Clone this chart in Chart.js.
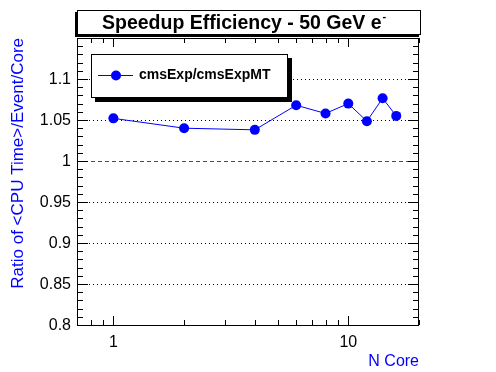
<!DOCTYPE html>
<html>
<head>
<meta charset="utf-8">
<script src="https://cdn.jsdelivr.net/npm/chart.js@4.4.0/dist/chart.umd.min.js"></script>
<style>
  html, body { margin: 0; padding: 0; background: #fff; }
  canvas { display: block; }
</style>
</head>
<body>
<canvas id="grafico" width="496" height="372"></canvas>
<script>
// dados
const nCore = [1, 2, 4, 6, 8, 10, 12, 14, 16];
const razao = [1.052, 1.040, 1.038, 1.068, 1.058, 1.070, 1.0485, 1.0765, 1.055];
const yTicks = [0.8, 0.85, 0.9, 0.95, 1, 1.05, 1.1];
const yLabels = ['0.8', '0.85', '0.9', '0.95', '1', '1.05', '1.1'];
const xTicks = [1, 10];
const xLabels = ['1', '10'];
const titulo = 'Speedup Efficiency - 50 GeV e';
const serie = 'cmsExp/cmsExpMT';
const tituloY = 'Ratio of <CPU Time>/Event/Core';
const tituloX = 'N Core';

const FONTE = "'Liberation Sans', Arial, Helvetica, sans-serif";
const AZUL = '#0000ff';

const estiloRoot = {
    id: 'estiloRoot',
    beforeDatasetsDraw(chart) {
        const ctx = chart.ctx;
        const a = chart.chartArea;
        const y = chart.scales.y;
        ctx.save();
        ctx.lineWidth = 1;
        yTicks.forEach(function (v) {
            if (v <= 0.8) return;
            const py = Math.round(y.getPixelForValue(v)) + 0.5;
            if (v === 1) {
                ctx.strokeStyle = '#ff0000';
                ctx.setLineDash([4, 3]);
            } else {
                ctx.strokeStyle = '#000';
                ctx.setLineDash([1, 3]);
            }
            ctx.beginPath();
            ctx.moveTo(a.left, py);
            ctx.lineTo(a.right, py);
            ctx.stroke();
        });
        ctx.restore();
    },
    afterDraw(chart) {
        const ctx = chart.ctx;
        const a = chart.chartArea;
        const x = chart.scales.x;
        const y = chart.scales.y;
        ctx.save();
        ctx.setLineDash([]);
        ctx.strokeStyle = '#000';
        ctx.lineWidth = 1;

        // moldura
        ctx.strokeRect(a.left + 0.5, a.top + 0.5, a.right - a.left - 1, a.bottom - a.top);

        // ticks do eixo y (esquerda e direita)
        ctx.beginPath();
        for (let i = 0; i <= 35; i++) {
            const v = 0.8 + i * 0.01;
            const py = Math.round(y.getPixelForValue(v)) + 0.5;
            const len = (i % 5 === 0) ? 11 : 6;
            ctx.moveTo(a.left, py); ctx.lineTo(a.left + len, py);
            ctx.moveTo(a.right, py); ctx.lineTo(a.right - len, py);
        }
        // ticks do eixo x (log)
        [0.8, 0.9, 1, 2, 3, 4, 5, 6, 7, 8, 9, 10, 20].forEach(function (v) {
            const px = Math.round(x.getPixelForValue(v)) + 0.5;
            const len = (v === 1 || v === 10) ? 9 : 5;
            ctx.moveTo(px, a.bottom); ctx.lineTo(px, a.bottom - len);
            ctx.moveTo(px, a.top); ctx.lineTo(px, a.top + len);
        });
        ctx.stroke();

        // rotulos
        ctx.fillStyle = '#000';
        ctx.font = '16px ' + FONTE;
        ctx.textAlign = 'right';
        ctx.textBaseline = 'middle';
        yTicks.forEach(function (v, i) {
            ctx.fillText(yLabels[i], a.left - 6, y.getPixelForValue(v) + 1);
        });
        ctx.textAlign = 'center';
        xTicks.forEach(function (v, i) {
            ctx.fillText(xLabels[i], x.getPixelForValue(v), 343);
        });

        // titulos dos eixos
        ctx.fillStyle = AZUL;
        ctx.font = '16px ' + FONTE;
        ctx.textAlign = 'right';
        ctx.fillText(tituloX, a.right, 362);
        ctx.save();
        ctx.translate(18, a.top);
        ctx.rotate(-Math.PI / 2);
        ctx.font = '17px ' + FONTE;
        ctx.textAlign = 'right';
        ctx.fillText(tituloY, 0, 0);
        ctx.restore();

        // caixa do titulo
        ctx.fillStyle = '#000';
        ctx.fillRect(75, 12, 344, 25);
        ctx.fillStyle = '#fff';
        ctx.fillRect(77, 10, 344, 25);
        ctx.strokeRect(77.5, 10.5, 343, 24);
        ctx.fillStyle = '#000';
        ctx.font = 'bold 19.5px ' + FONTE;
        ctx.textAlign = 'left';
        ctx.textBaseline = 'alphabetic';
        const w = ctx.measureText(titulo).width;
        const tx = 102;
        ctx.fillText(titulo, tx, 29);
        ctx.font = 'bold 11px ' + FONTE;
        ctx.fillText('-', tx + w + 1, 20);

        // legenda
        ctx.fillStyle = '#000';
        ctx.fillRect(95, 58, 197, 44);
        ctx.fillStyle = '#fff';
        ctx.fillRect(91, 54, 197, 44);
        ctx.strokeRect(91.5, 54.5, 196, 43);
        ctx.strokeStyle = AZUL;
        ctx.beginPath();
        ctx.moveTo(98, 75.5); ctx.lineTo(133, 75.5);
        ctx.stroke();
        ctx.fillStyle = AZUL;
        ctx.beginPath();
        ctx.arc(116, 75.5, 5, 0, Math.PI * 2);
        ctx.fill();
        ctx.fillStyle = '#000';
        ctx.font = 'bold 14px ' + FONTE;
        ctx.textBaseline = 'middle';
        ctx.fillText(serie, 139, 75.5);
        ctx.restore();
    }
};

const pontos = nCore.map(function (n, i) { return { x: n, y: razao[i] }; });

new Chart(document.getElementById('grafico'), {
    type: 'scatter',
    data: {
        datasets: [{
            label: serie,
            data: pontos,
            showLine: true,
            borderColor: AZUL,
            backgroundColor: AZUL,
            borderWidth: 1,
            pointRadius: 5,
            pointHoverRadius: 5,
            pointBorderWidth: 0
        }]
    },
    options: {
        responsive: false,
        animation: false,
        devicePixelRatio: 1,
        layout: { autoPadding: false, padding: { left: 77, right: 77, top: 38, bottom: 47 } },
        plugins: { legend: { display: false }, tooltip: { enabled: false }, title: { display: false } },
        scales: {
            x: { type: 'logarithmic', min: 0.7, max: 20, display: false },
            y: { type: 'linear', min: 0.8, max: 1.15, display: false }
        }
    },
    plugins: [estiloRoot]
});
</script>
</body>
</html>
